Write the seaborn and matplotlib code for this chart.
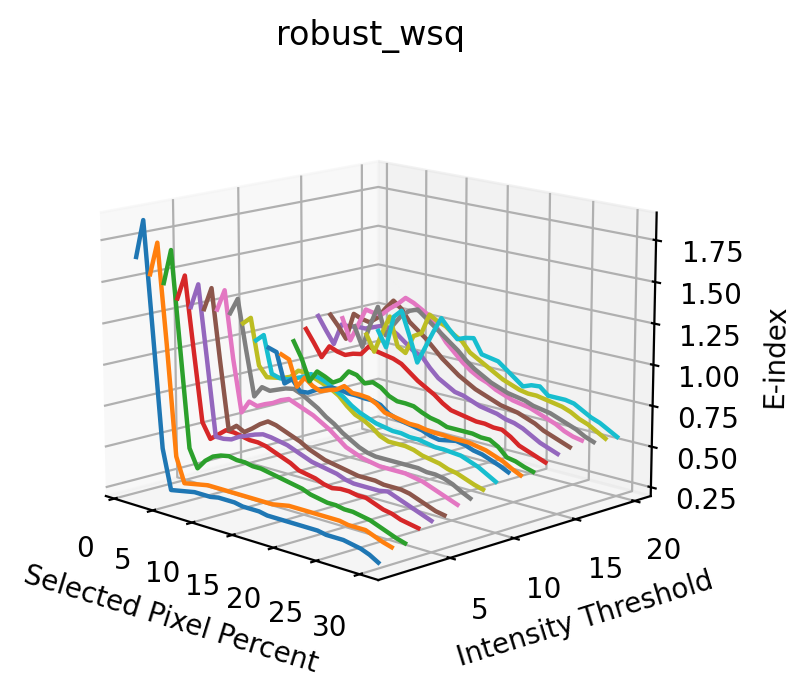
import matplotlib
matplotlib.use("Agg")
import matplotlib.pyplot as plt
import seaborn as sns

percents = list(range(1, 31))
thresholds = list(range(1, 21))
threshold_ticks = [5, 10, 15, 20]

line_01 = [1.65, 1.88, 1.21, 0.53, 0.29, 0.30, 0.31, 0.32, 0.32, 0.32, 0.33, 0.33, 0.33, 0.32, 0.32, 0.32, 0.31, 0.31, 0.31, 0.31, 0.31, 0.31, 0.31, 0.30, 0.30, 0.30, 0.29, 0.28, 0.26, 0.23]
line_02 = [1.53, 1.73, 1.13, 0.46, 0.31, 0.32, 0.33, 0.34, 0.34, 0.34, 0.34, 0.34, 0.34, 0.34, 0.34, 0.34, 0.35, 0.36, 0.36, 0.36, 0.36, 0.36, 0.36, 0.36, 0.35, 0.35, 0.35, 0.33, 0.31, 0.295]
line_03 = [1.46, 1.67, 1.08, 0.49, 0.38, 0.44, 0.48, 0.50, 0.51, 0.50, 0.50, 0.49, 0.49, 0.48, 0.47, 0.46, 0.45, 0.44, 0.42, 0.41, 0.40, 0.40, 0.39, 0.39, 0.38, 0.37, 0.35, 0.33, 0.31, 0.295]
line_04 = [1.35, 1.50, 1.06, 0.63, 0.54, 0.58, 0.62, 0.62, 0.61, 0.60, 0.60, 0.59, 0.57, 0.55, 0.53, 0.50, 0.49, 0.48, 0.46, 0.45, 0.46, 0.46, 0.45, 0.45, 0.43, 0.41, 0.40, 0.38, 0.37, 0.36]
line_05 = [1.28, 1.43, 0.98, 0.52, 0.52, 0.53, 0.56, 0.58, 0.60, 0.615, 0.61, 0.60, 0.59, 0.57, 0.55, 0.53, 0.52, 0.51, 0.50, 0.48, 0.47, 0.47, 0.47, 0.47, 0.48, 0.46, 0.44, 0.42, 0.40, 0.38]
line_06 = [1.25, 1.39, 0.95, 0.54, 0.58, 0.555, 0.59, 0.63, 0.66, 0.65, 0.63, 0.61, 0.59, 0.56, 0.54, 0.52, 0.51, 0.50, 0.49, 0.48, 0.48, 0.48, 0.47, 0.47, 0.47, 0.46, 0.44, 0.42, 0.40, 0.39]
line_07 = [1.23, 1.36, 0.95, 0.63, 0.71, 0.695, 0.72, 0.74, 0.77, 0.79, 0.77, 0.75, 0.73, 0.70, 0.67, 0.63, 0.59, 0.57, 0.55, 0.54, 0.53, 0.53, 0.53, 0.53, 0.52, 0.51, 0.49, 0.47, 0.45, 0.43]
line_08 = [1.19, 1.29, 0.99, 0.71, 0.78, 0.77, 0.79, 0.81, 0.82, 0.80, 0.77, 0.74, 0.70, 0.67, 0.63, 0.60, 0.57, 0.55, 0.54, 0.54, 0.54, 0.54, 0.54, 0.54, 0.53, 0.53, 0.52, 0.50, 0.47, 0.445]
line_09 = [1.11, 1.155, 0.87, 0.81, 0.82, 0.83, 0.85, 0.90, 0.90, 0.88, 0.86, 0.84, 0.81, 0.76, 0.72, 0.70, 0.67, 0.63, 0.61, 0.61, 0.61, 0.60, 0.58, 0.57, 0.56, 0.54, 0.53, 0.51, 0.49, 0.475]
line_10 = [0.985, 1.03, 0.80, 0.785, 0.79, 0.81, 0.83, 0.86, 0.85, 0.83, 0.80, 0.77, 0.73, 0.70, 0.68, 0.66, 0.65, 0.64, 0.64, 0.63, 0.63, 0.62, 0.61, 0.61, 0.605, 0.60, 0.58, 0.56, 0.53, 0.50]
line_11 = [0.92, 0.905, 0.72, 0.76, 0.695, 0.70, 0.73, 0.75, 0.77, 0.77, 0.76, 0.76, 0.755, 0.755, 0.74, 0.70, 0.68, 0.67, 0.66, 0.65, 0.63, 0.62, 0.63, 0.64, 0.63, 0.61, 0.60, 0.58, 0.56, 0.535]
line_12 = [0.86, 0.84, 0.68, 0.75, 0.71, 0.69, 0.71, 0.725, 0.76, 0.73, 0.73, 0.725, 0.70, 0.66, 0.65, 0.64, 0.63, 0.63, 0.62, 0.615, 0.615, 0.61, 0.61, 0.61, 0.60, 0.59, 0.57, 0.55, 0.52, 0.495]
line_13 = [0.925, 0.83, 0.695, 0.77, 0.75, 0.725, 0.755, 0.82, 0.81, 0.77, 0.79, 0.77, 0.73, 0.71, 0.71, 0.705, 0.68, 0.66, 0.65, 0.63, 0.63, 0.63, 0.63, 0.62, 0.62, 0.59, 0.54, 0.53, 0.51, 0.495]
line_14 = [0.985, 0.91, 0.83, 0.91, 0.89, 0.88, 0.90, 0.91, 0.97, 0.95, 0.94, 0.93, 0.91, 0.87, 0.83, 0.80, 0.77, 0.73, 0.70, 0.69, 0.68, 0.67, 0.67, 0.66, 0.66, 0.63, 0.59, 0.57, 0.55, 0.53]
line_15 = [1.05, 0.97, 0.895, 1.03, 1.03, 1.04, 1.04, 1.06, 1.08, 1.08, 1.05, 1.01, 0.97, 0.95, 0.89, 0.84, 0.81, 0.78, 0.77, 0.75, 0.73, 0.72, 0.71, 0.69, 0.68, 0.66, 0.63, 0.60, 0.58, 0.56]
line_16 = [1.04, 0.98, 0.91, 1.08, 1.06, 1.05, 1.09, 1.16, 1.22, 1.18, 1.11, 1.07, 1.03, 0.98, 0.93, 0.89, 0.85, 0.82, 0.79, 0.77, 0.75, 0.73, 0.72, 0.71, 0.69, 0.67, 0.64, 0.62, 0.60, 0.58]
line_17 = [1.00, 0.87, 0.98, 1.09, 1.08, 1.08, 1.13, 1.17, 1.22, 1.20, 1.17, 1.14, 1.07, 1.00, 0.95, 0.90, 0.86, 0.83, 0.81, 0.78, 0.76, 0.74, 0.73, 0.72, 0.70, 0.68, 0.66, 0.63, 0.61, 0.60]
line_18 = [0.93, 0.81, 0.96, 1.09, 0.92, 1.00, 1.07, 1.11, 1.13, 1.09, 1.05, 1.01, 0.97, 0.93, 0.88, 0.84, 0.81, 0.78, 0.76, 0.74, 0.73, 0.72, 0.70, 0.69, 0.68, 0.66, 0.64, 0.62, 0.59, 0.57]
line_19 = [0.86, 0.76, 0.89, 1.01, 0.83, 0.80, 0.92, 0.95, 1.08, 1.05, 1.03, 0.99, 0.96, 0.90, 0.87, 0.84, 0.81, 0.78, 0.76, 0.74, 0.73, 0.73, 0.72, 0.71, 0.70, 0.68, 0.65, 0.63, 0.60, 0.57]
line_20 = [0.865, 0.77, 0.98, 1.03, 0.88, 0.72, 0.83, 0.94, 1.04, 0.98, 0.93, 0.95, 0.96, 0.87, 0.86, 0.85, 0.81, 0.77, 0.73, 0.75, 0.755, 0.71, 0.71, 0.71, 0.70, 0.67, 0.64, 0.62, 0.59, 0.56]

lines = [line_01, line_02, line_03, line_04, line_05, line_06, line_07, line_08, line_09, line_10,
         line_11, line_12, line_13, line_14, line_15, line_16, line_17, line_18, line_19, line_20]

sns.set_palette("tab10")

fig = plt.figure(figsize=(8.09 / 2, 6.98 / 2), dpi=200)
ax = fig.add_subplot(projection="3d")
ax.set_position([0.024, 0.045, 0.867, 0.867])

for threshold, values in zip(thresholds, lines):
    ax.plot(percents, [threshold] * len(percents), values, linewidth=1.6)

ax.view_init(elev=14, azim=-45)
ax.set_yticks(threshold_ticks)
ax.set_xlabel("Selected Pixel Percent")
ax.set_ylabel("Intensity Threshold")
ax.set_zlabel("E-index")
ax.set_title("robust_wsq")

fig.savefig("out.png", dpi=200)
